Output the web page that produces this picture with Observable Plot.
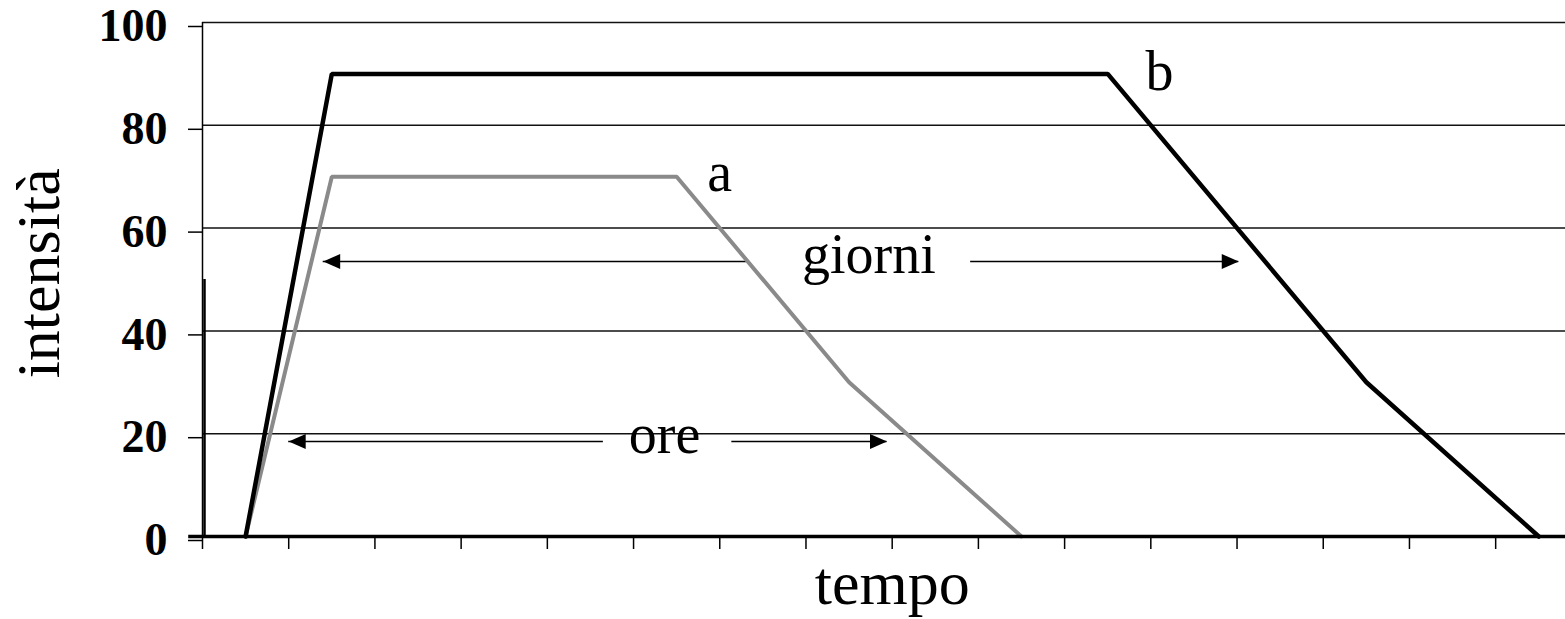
<!DOCTYPE html>
<html>
<head>
<meta charset="utf-8">
<script src="https://cdn.jsdelivr.net/npm/d3@7"></script>
<script src="https://cdn.jsdelivr.net/npm/@observablehq/plot@0.6"></script>
<style>
  html, body { margin: 0; padding: 0; background: #fff; }
  svg { display: block; }
</style>
</head>
<body>
<div id="chart"></div>
<script>
// ---- data ----
const xTicks = [0, 1, 2, 3, 4, 5, 6, 7, 8, 9, 10, 11, 12, 13, 14, 15];
const yTicks = [0, 20, 40, 60, 80, 100];
const gridValues = [20, 40, 60, 80, 100];

const seriesAName = "a";
const seriesAX = [0.5, 1.5, 5.5, 7.5, 9.5];
const seriesAY = [0, 70, 70, 30, 0];

const seriesBName = "b";
const seriesBX = [0.5, 1.5, 10.5, 13.5, 15.5];
const seriesBY = [0, 90, 90, 30, 0];

// annotation arrows (two horizontal double arrows, interrupted by a label)
const arrowLabels = ["giorni", "ore"];
const arrowLabelX = [7.73, 5.36];
const arrowLabelY = [54.7, 19.8];
const arrowY = [53.5, 18.5];
const arrowLeftTipX = [1.40, 1.0];
const arrowLeftEndX = [6.32, 4.65];
const arrowRightStartX = [8.91, 6.14];
const arrowRightTipX = [12.02, 7.94];

const seriesLabelX = [6.0, 11.1];
const seriesLabelY = [70.8, 90.3];

// ---- tables built from the arrays ----
const lineData = [
  ...seriesAX.map((x, i) => ({series: seriesAName, x, y: seriesAY[i]})),
  ...seriesBX.map((x, i) => ({series: seriesBName, x, y: seriesBY[i]}))
];
const segments = arrowY.flatMap((y, i) => [
  {y, x1: arrowLeftTipX[i], x2: arrowLeftEndX[i]},
  {y, x1: arrowRightStartX[i], x2: arrowRightTipX[i]}
]);
const leftHeads = arrowY.map((y, i) => ({x: arrowLeftTipX[i], y}));
const rightHeads = arrowY.map((y, i) => ({x: arrowRightTipX[i], y}));
const arrowText = arrowLabels.map((t, i) => ({t, x: arrowLabelX[i], y: arrowLabelY[i]}));
const seriesText = [seriesAName, seriesBName].map((t, i) => ({t, x: seriesLabelX[i], y: seriesLabelY[i]}));

const headRight = {draw(ctx) { ctx.moveTo(0, 0); ctx.lineTo(-17, -7.5); ctx.lineTo(-17, 7.5); ctx.closePath(); }};
const headLeft = {draw(ctx) { ctx.moveTo(0, 0); ctx.lineTo(17, -7.5); ctx.lineTo(17, 7.5); ctx.closePath(); }};

const serif = "'Liberation Serif', 'Times New Roman', serif";

const chart = Plot.plot({
  width: 1565,
  height: 619,
  marginTop: 22,
  marginBottom: 83,
  marginLeft: 202,
  marginRight: 0,
  style: {fontFamily: serif, color: "black", background: "white"},
  x: {domain: [0, 15.81]},
  y: {domain: [0, 100]},
  marks: [
    Plot.gridY(gridValues, {stroke: "#111", strokeOpacity: 1, strokeWidth: 1.5}),
    Plot.axisY({
      ticks: yTicks, tickSize: 14, tickPadding: 21, label: null,
      fontSize: 46, fontWeight: "bold", fontFamily: serif, dy: 4,
      strokeWidth: 1.5
    }),
    Plot.axisX({ticks: xTicks, tickSize: 13, tickFormat: () => "", label: null, strokeWidth: 1.5}),
    Plot.ruleX([0], {stroke: "black", strokeWidth: 1.5}),
    Plot.ruleX([0], {y1: 0, y2: 50, dx: 2, stroke: "black", strokeWidth: 2.5}),
    Plot.ruleY(segments, {y: "y", x1: "x1", x2: "x2", stroke: "black", strokeWidth: 1.5}),
    Plot.dot(leftHeads, {x: "x", y: "y", symbol: headLeft, fill: "black", stroke: null, r: 5}),
    Plot.dot(rightHeads, {x: "x", y: "y", symbol: headRight, fill: "black", stroke: null, r: 5}),
    Plot.line(lineData, {
      x: "x", y: "y", z: "series",
      stroke: d => d.series === seriesAName ? "#8a8a8a" : "#000",
      strokeWidth: d => d.series === seriesAName ? 4 : 4.5,
      strokeLinejoin: "miter"
    }),
    Plot.ruleY([0], {stroke: "black", strokeWidth: 3.5, x1: -0.16, x2: 15.81}),
    Plot.text(arrowText, {x: "x", y: "y", text: "t", fontSize: 56, fontFamily: serif, fill: "black", textAnchor: "middle", lineAnchor: "middle"}),
    Plot.text(seriesText, {x: "x", y: "y", text: "t", fontSize: 56, fontFamily: serif, fill: "black", textAnchor: "middle", lineAnchor: "middle"}),
    Plot.text(["tempo"], {x: () => 8.0, y: () => 0, text: d => d, dy: 67, fontSize: 62, fontFamily: serif, fill: "black", textAnchor: "middle", lineAnchor: "bottom"}),
    Plot.text(["intensità"], {x: () => 0, y: () => 51.2, text: d => d, dx: -144, rotate: -90, fontSize: 62, fontFamily: serif, fill: "black", textAnchor: "middle", lineAnchor: "bottom"})
  ]
});
document.getElementById("chart").appendChild(chart);
</script>
</body>
</html>
